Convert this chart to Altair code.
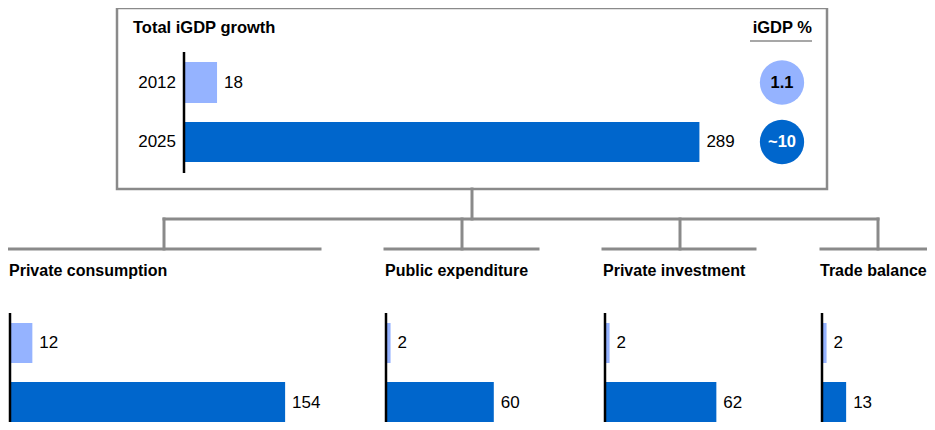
import math
import altair as alt
import pandas as pd

# ---- data ----
years = ["2012", "2025"]
total_growth = [18, 289]
igdp_share = ["1.1", "~10"]
categories = ["Private consumption", "Public expenditure", "Private investment", "Trade balance"]
cat_2012 = [12, 2, 2, 2]
cat_2025 = [154, 60, 62, 13]

# ---- layout (page pixels) ----
W, H = 919, 414
K = 1.78          # pixels per unit of value
OX, OY = 8, 8

def px(x):
    return x - OX

def py(y):
    return y - OY

LIGHT = "#95B3FF"
DARK = "#0066CC"
GRAY = "#8A8A8A"
FONT = "Liberation Sans"
year_fill = {"2012": LIGHT, "2025": DARK}
year_text = {"2012": "#000000", "2025": "#FFFFFF"}

top_base = 185
top_rows = {"2012": (62, 103), "2025": (122, 162)}
cat_base = [11, 387, 606, 823]
cat_axis = [10, 386, 605, 822]
cat_title_x = [9, 385, 603, 820]
cat_rows = {"2012": (323, 363), "2025": (382, 423)}
circle_x = 782
circle_r = 25

# ---- tables ----
bar_rows = []
for yr, v in zip(years, total_growth):
    t, b = top_rows[yr]
    bar_rows.append(dict(group="Total", year=yr, value=v, base=px(top_base), top=py(t), bot=py(b)))
cat_vals = {"2012": cat_2012, "2025": cat_2025}
for i, c in enumerate(categories):
    for yr in years:
        t, b = cat_rows[yr]
        bar_rows.append(dict(group=c, year=yr, value=cat_vals[yr][i], base=px(cat_base[i]), top=py(t), bot=py(b)))
bars = pd.DataFrame(bar_rows)
bars["x_start"] = bars["base"] / K
bars["x_end"] = bars["x_start"] + bars["value"]
bars["mid"] = (bars["top"] + bars["bot"]) / 2
bars["fill"] = bars["year"].map(year_fill)
bars["label"] = bars["value"].astype(str)

top_df = bars[bars["group"] == "Total"].copy()
top_df["share"] = igdp_share
top_df["cx"] = px(circle_x) / K
top_df["lx"] = px(176) / K
top_df["tcolor"] = top_df["year"].map(year_text)

titles = pd.DataFrame({
    "name": categories,
    "tx": [px(x) / K for x in cat_title_x],
    "ty": [py(276)] * 4,
})

# connector and axis segments (page px)
conn = [
    (472, 189, 472, 219),
    (164, 219, 878, 219),
    (164, 219, 164, 249),
    (462, 219, 462, 249),
    (680, 219, 680, 249),
    (878, 219, 878, 249),
    (9, 249, 320, 249),
    (385, 249, 538, 249),
    (603, 249, 755, 249),
    (821, 249, 935, 249),
]
conn_df = pd.DataFrame([dict(x=px(a) / K, x2=px(c) / K, y=py(b), y2=py(d)) for a, b, c, d in conn])
axes = [(184, 52, 184, 173)] + [(a, 313, a, 430) for a in cat_axis]
axes_df = pd.DataFrame([dict(x=px(a) / K, x2=px(c) / K, y=py(b), y2=py(d)) for a, b, c, d in axes])
under_df = pd.DataFrame([dict(x=px(750) / K, x2=px(812) / K, y=py(41), y2=py(41))])

xs = alt.Scale(domain=[0, W / K], nice=False, zero=False)
ys = alt.Scale(domain=[0, H], reverse=True, nice=False, zero=False)

def X(f):
    return alt.X(f, type="quantitative", scale=xs, axis=None)

def Y(f):
    return alt.Y(f, type="quantitative", scale=ys, axis=None)

box = alt.Chart(pd.DataFrame({"a": [0]})).mark_rect(
    filled=False, stroke=GRAY, strokeWidth=2.5
).encode(x=alt.value(px(117)), x2=alt.value(px(827)), y=alt.value(py(8)), y2=alt.value(py(189)))

conn_layer = alt.Chart(conn_df).mark_rule(color=GRAY, strokeWidth=3, strokeCap="square").encode(
    x=X("x"), x2="x2", y=Y("y"), y2="y2")

under_layer = alt.Chart(under_df).mark_rule(color=GRAY, strokeWidth=1.5).encode(
    x=X("x"), x2="x2", y=Y("y"), y2="y2")

bar_layer = alt.Chart(bars).mark_rect().encode(
    x=X("x_start"), x2="x_end", y=Y("top"), y2="bot",
    color=alt.Color("fill:N", scale=None))

axis_layer = alt.Chart(axes_df).mark_rule(color="#000000", strokeWidth=2.5).encode(
    x=X("x"), x2="x2", y=Y("y"), y2="y2")

val_labels = alt.Chart(bars).mark_text(
    align="left", baseline="middle", dx=7, fontSize=17, font=FONT, color="#000000"
).encode(x=X("x_end"), y=Y("mid"), text="label:N")

year_labels = alt.Chart(top_df).mark_text(
    align="right", baseline="middle", fontSize=17, font=FONT, color="#000000"
).encode(x=X("lx"), y=Y("mid"), text="year:N")

circles = alt.Chart(top_df).mark_point(
    shape="circle", filled=True, opacity=1, size=math.pi * circle_r ** 2, strokeWidth=0
).encode(x=X("cx"), y=Y("mid"), color=alt.Color("fill:N", scale=None))

circle_text = alt.Chart(top_df).mark_text(
    align="center", baseline="middle", fontSize=16.5, fontWeight="bold", font=FONT
).encode(x=X("cx"), y=Y("mid"), text="share:N", color=alt.Color("tcolor:N", scale=None))

top_title = alt.Chart(pd.DataFrame({"t": ["Total iGDP growth"]})).mark_text(
    align="left", baseline="alphabetic", fontSize=16.5, fontWeight="bold", font=FONT, color="#000000"
).encode(x=alt.value(px(133)), y=alt.value(py(33)), text="t:N")

pct_title = alt.Chart(pd.DataFrame({"t": ["iGDP %"]})).mark_text(
    align="right", baseline="alphabetic", fontSize=16.5, fontWeight="bold", font=FONT, color="#000000"
).encode(x=alt.value(px(812)), y=alt.value(py(33)), text="t:N")

cat_titles = alt.Chart(titles).mark_text(
    align="left", baseline="alphabetic", fontSize=16, fontWeight="bold", font=FONT, color="#000000"
).encode(x=X("tx"), y=Y("ty"), text="name:N")

chart = alt.layer(
    box, conn_layer, under_layer, bar_layer, axis_layer, val_labels, year_labels,
    circles, circle_text, top_title, pct_title, cat_titles
).properties(
    width=W, height=H, padding=0, autosize=alt.AutoSizeParams(type="none")
).configure_view(stroke=None)

chart.save("out.html", embed_options={"renderer": "svg", "actions": False})
